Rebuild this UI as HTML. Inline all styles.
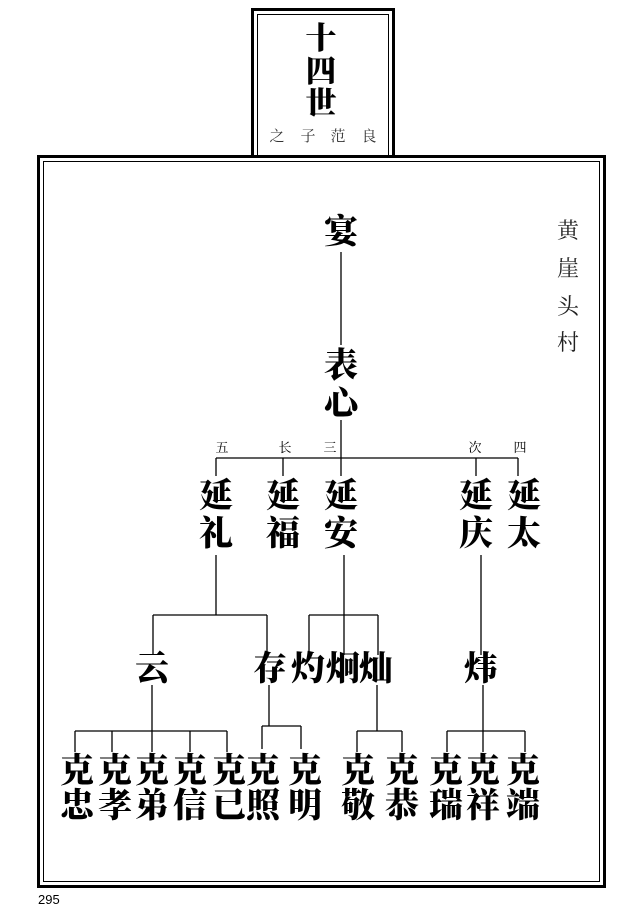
<!DOCTYPE html>
<html><head><meta charset="utf-8"><style>
html,body{margin:0;padding:0;background:#fff;}
svg{display:block}
.b{font-family:"Liberation Serif","Noto Serif CJK SC",serif;font-weight:900;font-size:34px;text-anchor:middle;fill:#000}
.s{font-family:"Liberation Serif","Noto Serif CJK SC",serif;font-size:13px;text-anchor:middle;fill:#000}
.v{font-family:"Liberation Serif","Noto Serif CJK SC",serif;font-size:22px;text-anchor:middle;fill:#222}
</style></head><body>
<svg width="638" height="913" viewBox="0 0 638 913">
<g fill="none" stroke="#000">
<rect x="252.5" y="9.5" width="141" height="150" stroke-width="3"/>
<rect x="257.5" y="14.5" width="131" height="145" stroke-width="1"/>
<rect x="38.5" y="156.5" width="566" height="730" stroke-width="3" fill="#fff"/>
<rect x="43.5" y="161.5" width="556" height="720" stroke-width="1"/>
</g>
<g stroke="#000" stroke-width="1.3" fill="none">
<path d="M341 252V345M341 420V458M216 458H518M216 458V476M283 458V476M341 458V476M476 458V476M518 458V476"/>
<path d="M216 555V615M153 615H267M153 615V655M267 615V655"/>
<path d="M344 555V655M309 615H378M309 615V655M378 615V655"/>
<path d="M481 555V655"/>
<path d="M152 685V731M75 731H227M75 731V752M112 731V752M152 731V752M190 731V752M227 731V752"/>
<path d="M269 685V726M262 726H301M262 726V749M301 726V749"/>
<path d="M377 685V731M357 731H402M357 731V752M402 731V752"/>
<path d="M483 685V731M447 731H525M447 731V752M483 731V752M525 731V752"/>
</g>
<g class="b" style="font-size:31px">
<text x="321" y="49">十</text><text x="321" y="82">四</text><text x="321" y="114">世</text>
</g>
<g class="s" style="font-size:15px;fill:#333">
<text x="277" y="141">之</text><text x="308" y="141">子</text><text x="338" y="141">范</text><text x="369" y="141">良</text>
</g>
<g class="v">
<text x="568" y="238">黄</text><text x="568" y="276">崖</text><text x="568" y="314">头</text><text x="568" y="350">村</text>
</g>
<g class="b">
<text x="341" y="243">宴</text>
<text x="341" y="377">表</text><text x="341" y="415">心</text>
<text x="216" y="507">延</text><text x="216" y="545">礼</text>
<text x="283" y="507">延</text><text x="283" y="545">福</text>
<text x="341" y="507">延</text><text x="341" y="545">安</text>
<text x="476" y="507">延</text><text x="476" y="545">庆</text>
<text x="524" y="507">延</text><text x="524" y="545">太</text>
<text x="152" y="680">云</text>
<text x="270" y="680">存</text><text x="308" y="680">灼</text><text x="343" y="680">炯</text><text x="376" y="680">灿</text>
<text x="481" y="680">炜</text>
</g>
<g class="s">
<text x="222" y="452">五</text><text x="285" y="452">长</text><text x="330" y="452">三</text><text x="475" y="452">次</text><text x="520" y="452">四</text>
</g>
<g class="b">
<text x="77" y="782">克</text><text x="77" y="817">忠</text>
<text x="115" y="782">克</text><text x="115" y="817">孝</text>
<text x="152" y="782">克</text><text x="152" y="817">弟</text>
<text x="190" y="782">克</text><text x="190" y="817">信</text>
<text x="229" y="782">克</text><text x="229" y="817">已</text>
<text x="263" y="782">克</text><text x="263" y="817">照</text>
<text x="305" y="782">克</text><text x="305" y="817">明</text>
<text x="358" y="782">克</text><text x="358" y="817">敬</text>
<text x="402" y="782">克</text><text x="402" y="817">恭</text>
<text x="446" y="782">克</text><text x="446" y="817">瑞</text>
<text x="483" y="782">克</text><text x="483" y="817">祥</text>
<text x="523" y="782">克</text><text x="523" y="817">端</text>
</g>
<text x="38" y="904" style="font-family:'Liberation Sans',sans-serif;font-size:13px;fill:#000">295</text>
</svg>
</body></html>
